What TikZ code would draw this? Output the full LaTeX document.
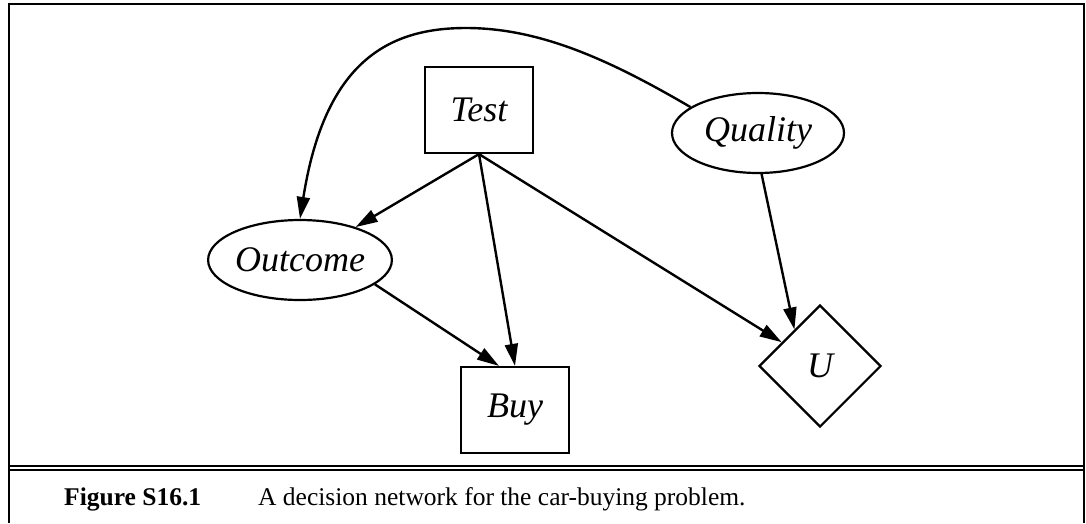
\documentclass[tikz,border=0pt]{standalone}
\usepackage{fontspec}
\setmainfont{Liberation Serif}
\usetikzlibrary{shapes.geometric,arrows.meta}
\tikzset{
  chance/.style={ellipse, draw, line width=2.2pt, minimum width=172pt, minimum height=80pt, inner sep=0pt, font=\fontsize{36}{40}\selectfont\itshape},
  decision/.style={rectangle, draw, line width=2.2pt, minimum width=108pt, minimum height=86pt, inner sep=0pt, font=\fontsize{36}{40}\selectfont\itshape},
  utility/.style={diamond, draw, line width=2.2pt, minimum width=122pt, minimum height=122pt, inner sep=0pt, font=\fontsize{36}{40}\selectfont\itshape},
  link/.style={line width=2.4pt, -{Triangle[length=22pt,width=13pt]}},
  frame/.style={line width=2.4pt},
  caption/.style={anchor=base west, inner sep=0pt, font=\fontsize{25.5}{30}\selectfont},
}
\begin{document}
\begin{tikzpicture}[x=1pt,y=-1pt]
\useasboundingbox (0,0) rectangle (1086,523);
\draw[frame] (9,523) -- (9,4) -- (1084,4) -- (1084,523);
\draw[frame] (9,466) -- (1084,466);
\draw[frame] (9,470) -- (1084,470);
\node[decision] (test) at (479,110){Test};
\node[chance] (quality) at (758,133){Quality};
\node[chance] (outcome) at (300,260){Outcome};
\node[decision] (buy) at (515,410){Buy};
\node[utility] (u) at (820,366){U};
\coordinate (arctop) at (466,28);
\draw[link](quality.159) .. controls (610,60) and (540,28) .. (arctop) .. controls (390,28) and (325,60) .. (outcome.north);
\draw[link](test.south) -- (outcome);
\draw[link](test.south) -- (buy.north);
\draw[link](test.south) -- (u);
\draw[link](outcome.-18) -- (buy.110);
\draw[link](quality.-85) -- (u.125);
\node[caption, font=\fontsize{25.5}{30}\selectfont\bfseries] (figlabel) at (64,505){Figure S16.1};
\node[caption] (figtext) at (258,505){A decision network for the car-buying problem.};
\end{tikzpicture}
\end{document}
